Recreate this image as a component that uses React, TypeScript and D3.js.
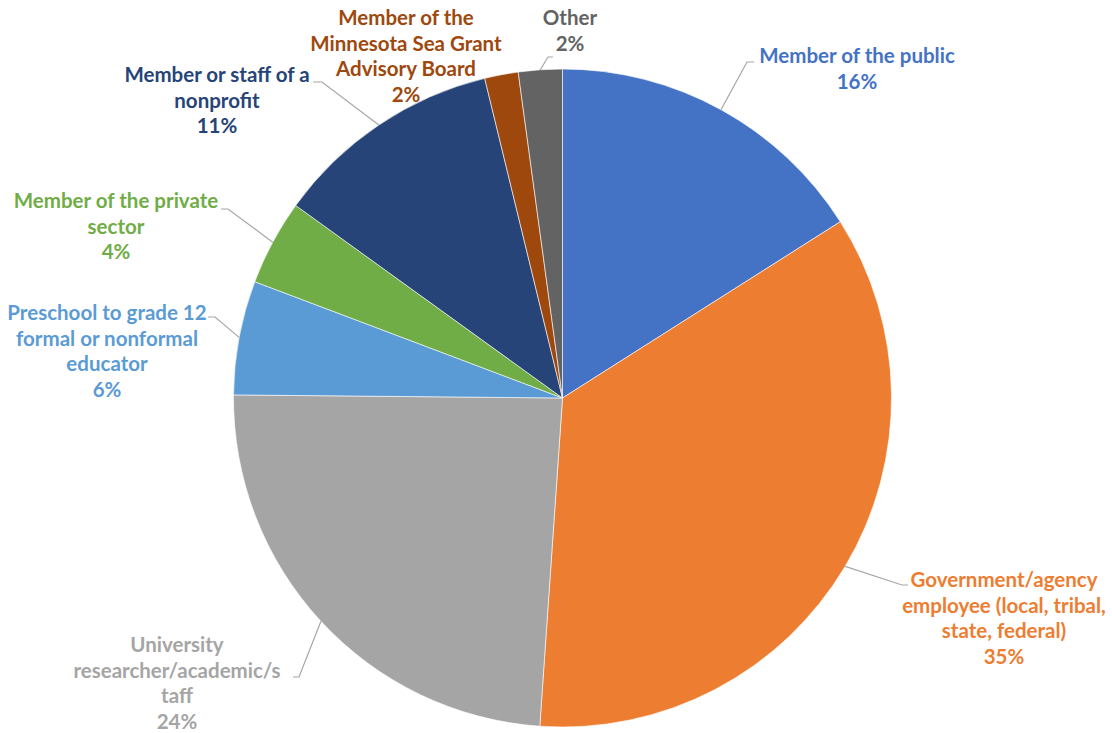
import React from "react";
import * as d3 from "d3";

const categories = [
  "Member of the public",
  "Government/agency employee (local, tribal, state, federal)",
  "University researcher/academic/staff",
  "Preschool to grade 12 formal or nonformal educator",
  "Member of the private sector",
  "Member or staff of a nonprofit",
  "Member of the Minnesota Sea Grant Advisory Board",
  "Other",
];
const shares = [16.0, 35.1, 24.05, 5.6, 4.2, 11.25, 1.65, 2.15];
const colors = ["#4472C4", "#ED7D31", "#A5A5A5", "#5B9BD5", "#70AD47", "#264478", "#9E480E", "#636363"];
const labelLines = [
  ["Member of the public"],
  ["Government/agency", "employee (local, tribal,", "state, federal)"],
  ["University", "researcher/academic/s", "taff"],
  ["Preschool to grade 12", "formal or nonformal", "educator"],
  ["Member of the private", "sector"],
  ["Member or staff of a", "nonprofit"],
  ["Member of the", "Minnesota Sea Grant", "Advisory Board"],
  ["Other"],
];

// layout: label centre x, first baseline y, leader elbow and hook end (null = no leader)
const layout = [
  { cx: 857, y: 63, elbow: [747, 62], hook: [754, 62] },
  { cx: 1004, y: 587, elbow: [902, 585], hook: [908, 585] },
  { cx: 177, y: 652, elbow: [299, 677], hook: [293, 677] },
  { cx: 107, y: 320, elbow: [215, 317], hook: [208, 317] },
  { cx: 116, y: 208, elbow: [228, 209], hook: [221, 209] },
  { cx: 217, y: 82, elbow: [322, 82], hook: [313, 82] },
  { cx: 406, y: 25, elbow: null, hook: null },
  { cx: 570, y: 25, elbow: [548, 57], hook: [553, 57] },
];

const W = 1112;
const H = 733;
const CX = 562.5;
const CY = 398;
const R = 329;
const LINE = 25.5;

export default function App() {
  const pie = d3.pie<number>().sort(null).value((d) => d);
  const arcs = pie(shares);
  const arcGen = d3.arc<d3.PieArcDatum<number>>().innerRadius(0).outerRadius(R);
  const total = d3.sum(shares);

  return (
    <svg
      width={W}
      height={H}
      style={{ position: "absolute", left: 0, top: 0, display: "block", background: "#fff" }}
      fontFamily="Lato, 'Open Sans', sans-serif"
      fontWeight="bold"
    >
      <g transform={`translate(${CX},${CY})`}>
        {arcs.map((a, i) => (
          <path key={i} d={arcGen(a) || ""} fill={colors[i]} stroke="#fff" strokeWidth={0.6} />
        ))}
      </g>
      {arcs.map((a, i) => {
        const L = layout[i];
        if (!L.elbow) return null;
        const mid = (a.startAngle + a.endAngle) / 2;
        const px = CX + R * Math.sin(mid);
        const py = CY - R * Math.cos(mid);
        const pts = [[px, py], L.elbow, L.hook] as [number, number][];
        return (
          <path key={"l" + i} d={d3.line()(pts) || ""} fill="none" stroke="#A6A6A6" strokeWidth={1.2} />
        );
      })}
      {arcs.map((a, i) => {
        const L = layout[i];
        const lines = [...labelLines[i], `${Math.round((shares[i] / total) * 100)}%`];
        return (
          <text key={"t" + i} x={L.cx} y={L.y} textAnchor="middle" fill={colors[i]} fontSize={20.5}>
            {lines.map((s, j) => (
              <tspan key={j} x={L.cx} y={L.y + j * LINE}>
                {s}
              </tspan>
            ))}
          </text>
        );
      })}
    </svg>
  );
}
